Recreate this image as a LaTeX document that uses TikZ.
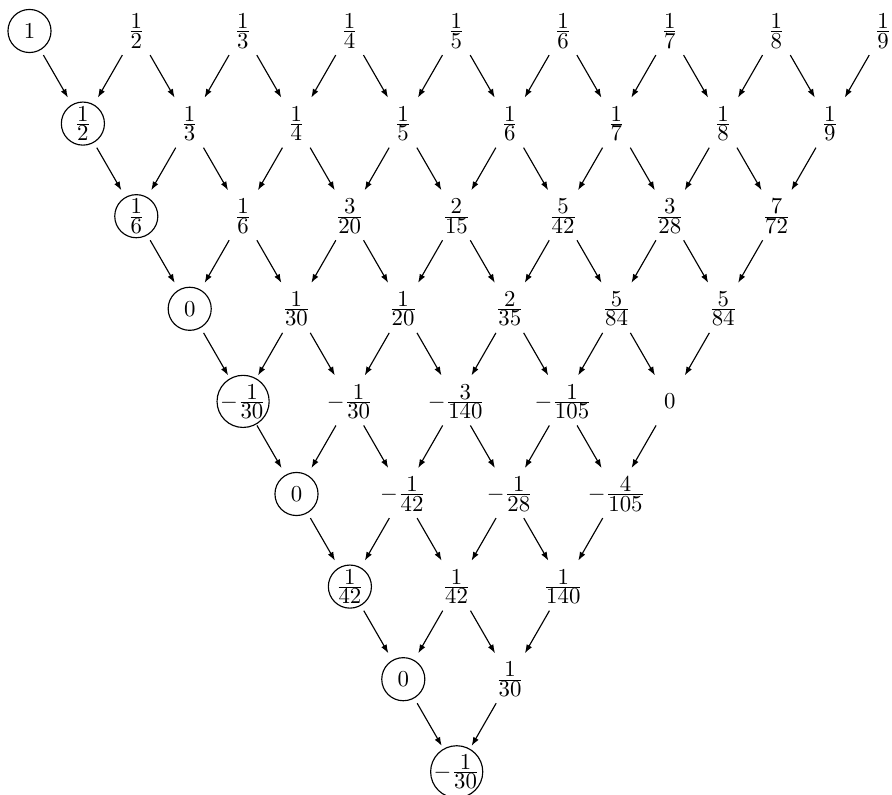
\documentclass[tikz,border=0pt]{standalone}
\usepackage{amsmath}
\usetikzlibrary{calc,arrows.meta}
\newcommand{\fr}[2]{\genfrac{}{}{}{1}{\textstyle #1}{\textstyle #2}}
\newcommand{\placenode}[4][plainnode]{\node[#1] (n#2-#3) at ({29.5+53.4*#2+106.7*#3},{31+92.6*#2}) {$#4$};}
\tikzset{
  plainnode/.style={inner sep=0pt},
  circnode/.style={circle,draw,line width=0.5pt,inner sep=-0.8pt,minimum size=18.9pt},
  arr/.style={-{Latex[length=3.8pt,width=2.7pt]},line width=0.5pt}
}
\begin{document}
\begin{tikzpicture}[x=0.4386pt,y=-0.4386pt]
\useasboundingbox (0,0) rectangle (892,795);
% row 0
\placenode[circnode]{0}{0}{1}
\placenode{0}{1}{\fr12}
\placenode{0}{2}{\fr13}
\placenode{0}{3}{\fr14}
\placenode{0}{4}{\fr15}
\placenode{0}{5}{\fr16}
\placenode{0}{6}{\fr17}
\placenode{0}{7}{\fr18}
\placenode{0}{8}{\fr19}
% row 1
\placenode[circnode]{1}{0}{\fr12}
\placenode{1}{1}{\fr13}
\placenode{1}{2}{\fr14}
\placenode{1}{3}{\fr15}
\placenode{1}{4}{\fr16}
\placenode{1}{5}{\fr17}
\placenode{1}{6}{\fr18}
\placenode{1}{7}{\fr19}
% row 2
\placenode[circnode]{2}{0}{\fr16}
\placenode{2}{1}{\fr16}
\placenode{2}{2}{\fr3{20}}
\placenode{2}{3}{\fr2{15}}
\placenode{2}{4}{\fr5{42}}
\placenode{2}{5}{\fr3{28}}
\placenode{2}{6}{\fr7{72}}
% row 3
\placenode[circnode]{3}{0}{0}
\placenode{3}{1}{\fr1{30}}
\placenode{3}{2}{\fr1{20}}
\placenode{3}{3}{\fr2{35}}
\placenode{3}{4}{\fr5{84}}
\placenode{3}{5}{\fr5{84}}
% row 4
\placenode[circnode]{4}{0}{-\fr1{30}}
\placenode{4}{1}{-\fr1{30}}
\placenode{4}{2}{-\fr3{140}}
\placenode{4}{3}{-\fr1{105}}
\placenode{4}{4}{0}
% row 5
\placenode[circnode]{5}{0}{0}
\placenode{5}{1}{-\fr1{42}}
\placenode{5}{2}{-\fr1{28}}
\placenode{5}{3}{-\fr4{105}}
% row 6
\placenode[circnode]{6}{0}{\fr1{42}}
\placenode{6}{1}{\fr1{42}}
\placenode{6}{2}{\fr1{140}}
% row 7
\placenode[circnode]{7}{0}{0}
\placenode{7}{1}{\fr1{30}}
% row 8
\placenode[circnode]{8}{0}{-\fr1{30}}
% arrows
\foreach \r in {0,...,7}{
  \pgfmathtruncatemacro\rn{\r+1}
  \pgfmathtruncatemacro\cm{7-\r}
  \foreach \c in {0,...,\cm}{
    \pgfmathtruncatemacro\cn{\c+1}
    \draw[arr] ($(n\r-\c)!0.26!(n\rn-\c)$) -- ($(n\r-\c)!0.72!(n\rn-\c)$);
    \draw[arr] ($(n\r-\cn)!0.26!(n\rn-\c)$) -- ($(n\r-\cn)!0.72!(n\rn-\c)$);
  }
}
\end{tikzpicture}
\end{document}
